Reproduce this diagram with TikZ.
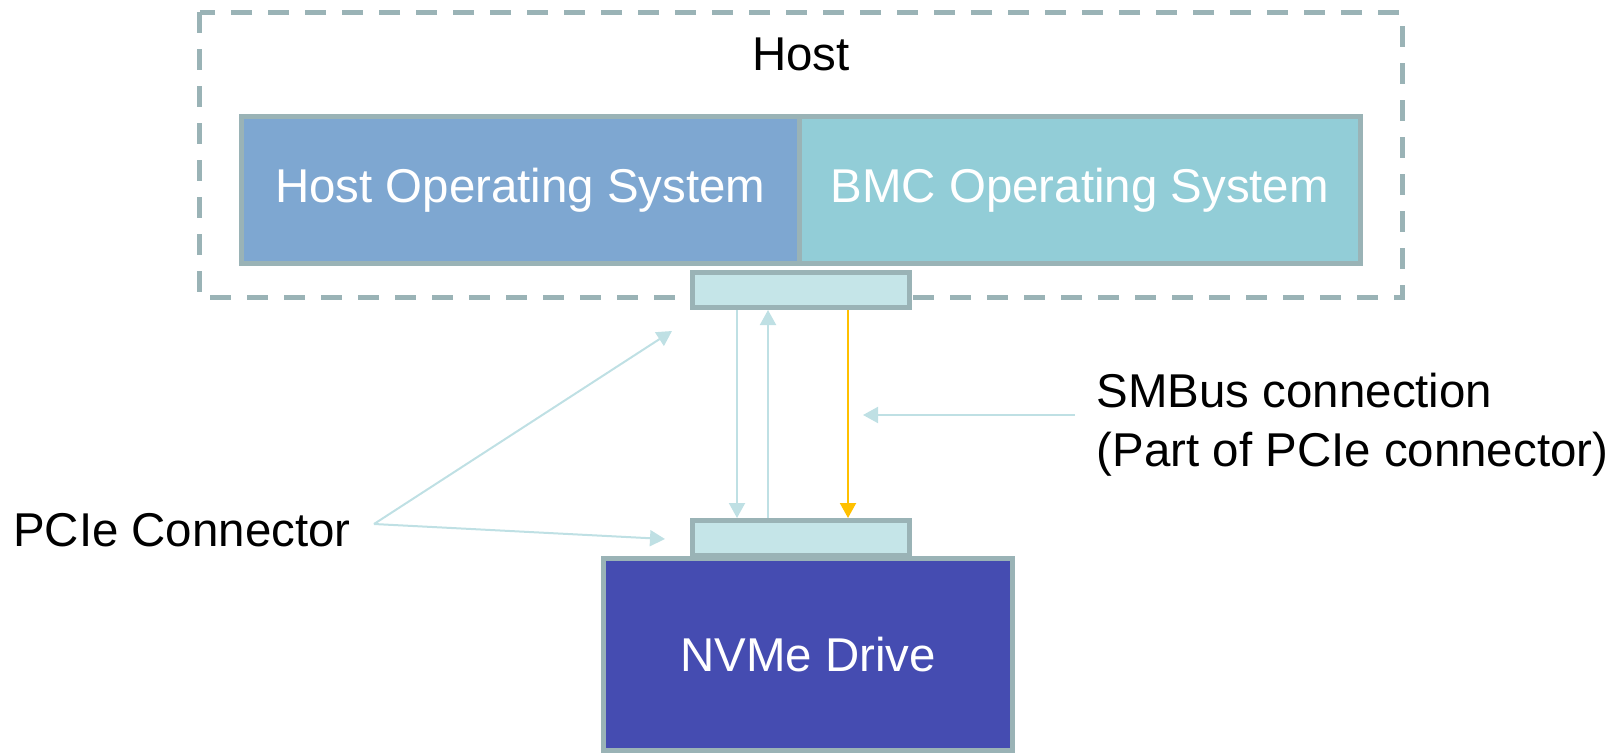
\documentclass[tikz,border=0pt]{standalone}
\usepackage{fontspec}
\setmainfont{Liberation Sans}
\usetikzlibrary{calc,positioning,arrows.meta}

\definecolor{frame}{HTML}{9AB3B6}
\definecolor{hostblue}{HTML}{7EA7D1}
\definecolor{bmcteal}{HTML}{92CDD7}
\definecolor{plug}{HTML}{C5E5E8}
\definecolor{nvme}{HTML}{454CB1}
\definecolor{link}{HTML}{BFE0E4}
\definecolor{smbus}{HTML}{FFC000}
\newcommand\lblfont{\fontsize{13.5}{16.8}\selectfont}

\begin{document}
\begin{tikzpicture}[x=0.1mm, y=-0.1mm,
  box/.style={draw=frame, line width=0.5mm, inner sep=0pt, text=white, font=\lblfont},
  wire/.style={line width=0.2mm, -{Triangle[length=1.5mm, width=1.6mm]}},
  lbl/.style={inner sep=0pt, font=\lblfont}]
\useasboundingbox (0,0) rectangle (1621,753);

% Host enclosure
\draw[frame, line width=0.5mm, dash pattern=on 2.1mm off 1.6mm] (199.5,12.4) rectangle (1402,297.7);
\node[lbl] (hostlbl) at (801,54) {Host};

\node[box, fill=hostblue, outer sep=0pt, minimum width=55.75mm, minimum height=14.7mm] (hostos) at (520.25,190) {Host Operating System};
\node[box, fill=bmcteal, outer sep=0pt, minimum width=56.15mm, minimum height=14.7mm, right=0pt of hostos] (bmcos) {BMC Operating System};

% connectors and drive
\node[box, fill=plug, minimum width=21.7mm, minimum height=3.5mm] (conA) at (801,290) {};
\node[box, fill=nvme, minimum width=40.9mm, minimum height=19.2mm] (drive) at (808,654.5) {NVMe Drive};
\node[box, fill=plug, minimum width=21.7mm, minimum height=3.5mm] (conB) at (801,538) {};

% PCIe lanes and SMBus
\draw[wire, link] ($(conA.south)+(-64,0)$) -- ($(conB.north)+(-64,0)$);
\draw[wire, link] ($(conB.north)+(-33,0)$) -- ($(conA.south)+(-33,0)$);
\draw[wire, smbus] ($(conA.south)+(47,0)$) -- ($(conB.north)+(47,0)$);

% callouts
\node[lbl, anchor=west] (pcielbl) at (12.4,530) {PCIe Connector};
\coordinate (pcfork) at (374,524);
\coordinate (pcup) at (672,331);
\coordinate (pcdn) at (665,539);
\draw[wire, link] (pcfork) -- (pcup);
\draw[wire, link] (pcfork) -- (pcdn);

\node[lbl, anchor=west, align=left] (smblbl) at (1096,425) {SMBus connection\\(Part of PCIe connector)};
\coordinate (smtail) at (1075,415);
\coordinate (smtip) at (863,415);
\draw[wire, link] (smtail) -- (smtip);

\end{tikzpicture}
\end{document}
